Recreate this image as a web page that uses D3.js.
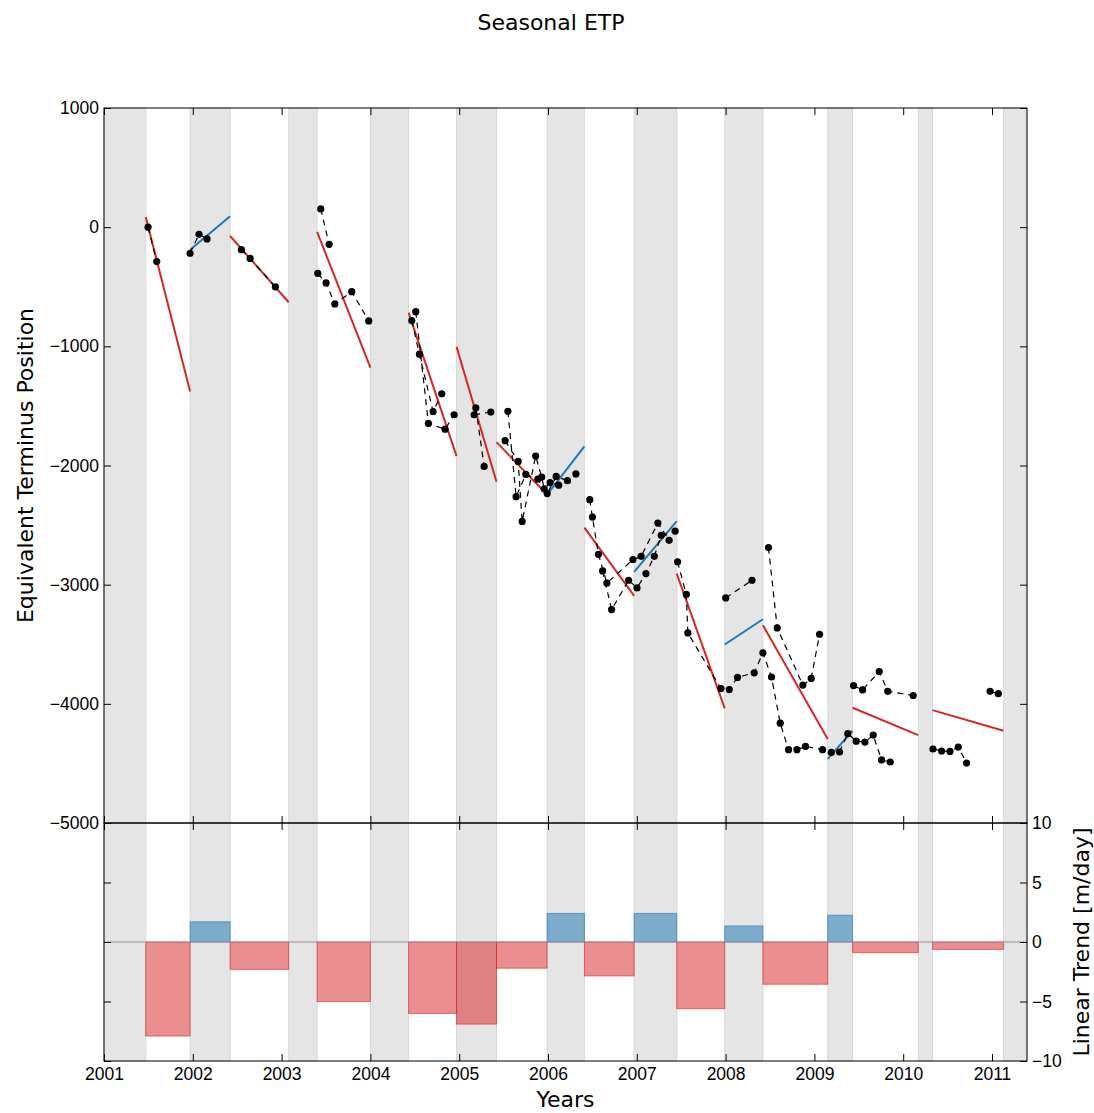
<!DOCTYPE html>
<html>
<head>
<meta charset="utf-8">
<script src="https://cdn.jsdelivr.net/npm/d3@7"></script>
<style>
  html, body { margin: 0; padding: 0; background: #fff; }
  svg { display: block; font-family: "DejaVu Sans", sans-serif; }
</style>
</head>
<body>
<svg id="chart" width="1094" height="1113"></svg>
<script>
// Season boundaries (decimal years); even-numbered periods are the shaded seasons
const periodBounds = [2001.0, 2001.47, 2001.97, 2002.42, 2003.08, 2003.40, 2004.0, 2004.43,
  2004.97, 2005.42, 2005.99, 2006.41, 2006.97, 2007.45, 2007.99, 2008.42, 2009.15, 2009.43,
  2010.17, 2010.33, 2011.13, 2011.394];

// Linear trend of each period [m/day]
const trendRates = [0, -7.9, 1.7, -2.3, 0, -5.0, 0, -6.0, -6.9, -2.2, 2.4, -2.85, 2.4, -5.6,
  1.35, -3.55, 2.25, -0.9, 0, -0.62, 0];

// Fitted line end values [m] for each period (null where no fit)
const trendStart = [null, 85, -189, -74, null, -40, null, -717, -1004, -1804, -2245, -2521,
  -2893, -2907, -3502, -3340, -4464, -4033, null, -4053, null];
const trendEnd = [null, -1379, 91, -630, null, -1178, null, -1921, -2136, -2245, -1840, -3094,
  -2466, -4038, -3290, -4296, -4226, -4262, null, -4226, null];

// Terminus position observations, grouped into connected runs [year, position m]
const run01 = [[2001.496, 0], [2001.594, -289]];
const run02 = [[2001.969, -219], [2002.070, -60], [2002.160, -99]];
const run03 = [[2002.547, -189], [2002.645, -262], [2002.930, -501]];
const run04 = [[2003.441, 153], [2003.535, -144]];
const run05 = [[2003.407, -387], [2003.501, -468], [2003.599, -644], [2003.790, -541], [2003.981, -787]];
const run06 = [[2004.466, -784], [2004.552, -1066], [2004.706, -1547], [2004.804, -1398]];
const run07 = [[2004.511, -709], [2004.653, -1647], [2004.841, -1695], [2004.943, -1574]];
const run08 = [[2005.168, -1574], [2005.356, -1552]];
const run09 = [[2005.187, -1516], [2005.281, -2008]];
const run10 = [[2005.548, -1545], [2005.641, -2262], [2005.750, -2075], [2005.886, -2115],
  [2005.991, -2236], [2006.092, -2092], [2006.219, -2127]];
const run11 = [[2005.517, -1792], [2005.664, -1966], [2005.709, -2469], [2005.861, -1921],
  [2005.929, -2097], [2005.957, -2195], [2006.024, -2143], [2006.120, -2165], [2006.314, -2071]];
const run12 = [[2006.470, -2287], [2006.500, -2433], [2006.568, -2745], [2006.663, -2986],
  [2006.956, -2790], [2007.049, -2762], [2007.237, -2483], [2007.364, -2628]];
const run13 = [[2006.615, -2885], [2006.716, -3209], [2006.908, -2963], [2007.002, -3027],
  [2007.103, -2907], [2007.197, -2762], [2007.275, -2586], [2007.432, -2550]];
const run14 = [[2007.459, -2808], [2007.557, -3082], [2007.575, -3405], [2007.947, -3872],
  [2008.041, -3880], [2008.134, -3778], [2008.322, -3740], [2008.420, -3572], [2008.517, -3775],
  [2008.615, -4162], [2008.709, -4385], [2008.803, -4385], [2008.900, -4357], [2009.092, -4385],
  [2009.190, -4408], [2009.283, -4404], [2009.376, -4250], [2009.471, -4313], [2009.569, -4321],
  [2009.662, -4262], [2009.756, -4471], [2009.854, -4488]];
const run15 = [[2008.001, -3111], [2008.297, -2963]];
const run16 = [[2008.483, -2689], [2008.581, -3363], [2008.870, -3843], [2008.964, -3787], [2009.058, -3416]];
const run17 = [[2009.441, -3847], [2009.542, -3883], [2009.730, -3729], [2009.826, -3895], [2010.113, -3930]];
const run18 = [[2010.335, -4379], [2010.432, -4396], [2010.527, -4399], [2010.620, -4363], [2010.714, -4497]];
const run19 = [[2010.978, -3895], [2011.071, -3915]];
const observationRuns = [run01, run02, run03, run04, run05, run06, run07, run08, run09, run10,
  run11, run12, run13, run14, run15, run16, run17, run18, run19];

// Tick values
const yearTicks = [2001, 2002, 2003, 2004, 2005, 2006, 2007, 2008, 2009, 2010, 2011];
const positionTicks = [1000, 0, -1000, -2000, -3000, -4000, -5000];
const rateTicks = [10, 5, 0, -5, -10];

const RED = "#d62728", BLUE = "#1f77b4";
const fmt = v => (v < 0 ? "\u2212" + Math.abs(v) : String(v));

const svg = d3.select("#chart");
const left = 104, right = 1027, topY = 108, midY = 823, botY = 1061;

const x = d3.scaleLinear().domain([2001, 2011.394]).range([left, right]);
const yTop = d3.scaleLinear().domain([-5000, 1000]).range([midY, topY]);
const yBot = d3.scaleLinear().domain([-10, 10]).range([botY, midY]);

const periods = trendRates.map((r, i) => ({
  i, x0: periodBounds[i], x1: periodBounds[i + 1], rate: r,
  s: trendStart[i], e: trendEnd[i]
}));
const shaded = periods.filter(p => p.i % 2 === 0);

// Shaded seasons in both panels
[[topY, midY], [midY, botY]].forEach(([a, b]) => {
  svg.append("g").selectAll("rect").data(shaded).join("rect")
    .attr("x", d => x(d.x0)).attr("width", d => x(d.x1) - x(d.x0))
    .attr("y", a).attr("height", b - a)
    .attr("fill", "#e5e5e5").attr("stroke", "#d8d8d8").attr("stroke-width", 1);
});

// Top panel: fitted trend lines
svg.append("g").selectAll("line").data(periods.filter(p => p.s !== null)).join("line")
  .attr("x1", d => x(d.x0)).attr("y1", d => yTop(d.s))
  .attr("x2", d => x(d.x1)).attr("y2", d => yTop(d.e))
  .attr("stroke", d => d.rate >= 0 ? BLUE : RED).attr("stroke-width", 2);

// Top panel: observations
const line = d3.line().x(d => x(d[0])).y(d => yTop(d[1]));
const obs = svg.append("g");
obs.selectAll("path").data(observationRuns).join("path")
  .attr("d", line).attr("fill", "none").attr("stroke", "#000")
  .attr("stroke-width", 1.2).attr("stroke-dasharray", "6,5");
obs.selectAll("circle").data(observationRuns.flat()).join("circle")
  .attr("cx", d => x(d[0])).attr("cy", d => yTop(d[1])).attr("r", 3.6).attr("fill", "#000");

// Bottom panel: trend bars
svg.append("g").selectAll("rect").data(periods.filter(p => p.rate !== 0)).join("rect")
  .attr("x", d => x(d.x0)).attr("width", d => x(d.x1) - x(d.x0))
  .attr("y", d => yBot(Math.max(0, d.rate)))
  .attr("height", d => Math.abs(yBot(d.rate) - yBot(0)))
  .attr("fill", d => d.rate >= 0 ? BLUE : RED).attr("fill-opacity", 0.52)
  .attr("stroke", d => d.rate >= 0 ? BLUE : RED).attr("stroke-opacity", 0.6).attr("stroke-width", 1);
svg.append("line").attr("x1", left).attr("x2", right)
  .attr("y1", yBot(0)).attr("y2", yBot(0)).attr("stroke", "#9d8ca3").attr("stroke-width", 1.2);

// Axes (inward ticks, classic style)
const TICK = 7;
function styleAxis(g) {
  g.select(".domain").remove();
  g.selectAll(".tick line").attr("stroke", "#000");
  g.selectAll(".tick text").attr("fill", "#000").attr("font-size", 17.5);
}
svg.append("g").attr("transform", `translate(${left},0)`)
  .call(d3.axisLeft(yTop).tickValues(positionTicks).tickFormat(fmt).tickSizeInner(-TICK).tickSizeOuter(0).tickPadding(5))
  .call(styleAxis);
svg.append("g").attr("transform", `translate(${right},0)`)
  .call(d3.axisRight(yTop).tickValues(positionTicks).tickFormat("").tickSizeInner(-TICK).tickSizeOuter(0))
  .call(styleAxis);
svg.append("g").attr("transform", `translate(0,${topY})`)
  .call(d3.axisTop(x).tickValues(yearTicks).tickFormat("").tickSizeInner(-TICK).tickSizeOuter(0))
  .call(styleAxis);
svg.append("g").attr("transform", `translate(0,${midY})`)
  .call(d3.axisBottom(x).tickValues(yearTicks).tickFormat("").tickSizeInner(-TICK).tickSizeOuter(0))
  .call(styleAxis);
svg.append("g").attr("transform", `translate(0,${midY})`)
  .call(d3.axisTop(x).tickValues(yearTicks).tickFormat("").tickSizeInner(-TICK).tickSizeOuter(0))
  .call(styleAxis);
svg.append("g").attr("transform", `translate(0,${botY})`)
  .call(d3.axisBottom(x).tickValues(yearTicks).tickFormat(d3.format("d")).tickSizeInner(-TICK).tickSizeOuter(0).tickPadding(7))
  .call(styleAxis);
svg.append("g").attr("transform", `translate(${right},0)`)
  .call(d3.axisRight(yBot).tickValues(rateTicks).tickFormat(fmt).tickSizeInner(-TICK).tickSizeOuter(0).tickPadding(5))
  .call(styleAxis);
svg.append("g").attr("transform", `translate(${left},0)`)
  .call(d3.axisLeft(yBot).tickValues(rateTicks).tickFormat("").tickSizeInner(-TICK).tickSizeOuter(0))
  .call(styleAxis);

// Panel frames
[[topY, midY], [midY, botY]].forEach(([a, b]) => {
  svg.append("rect").attr("x", left).attr("y", a).attr("width", right - left).attr("height", b - a)
    .attr("fill", "none").attr("stroke", "#000").attr("stroke-width", 1);
});

// Titles and axis labels
svg.append("text").attr("x", 551).attr("y", 30).attr("text-anchor", "middle")
  .attr("font-size", 22).text("Seasonal ETP");
svg.append("text").attr("x", (left + right) / 2).attr("y", 1107).attr("text-anchor", "middle")
  .attr("font-size", 22).text("Years");
svg.append("text").attr("transform", `translate(33,${(topY + midY) / 2}) rotate(-90)`)
  .attr("text-anchor", "middle").attr("font-size", 22).text("Equivalent Terminus Position");
svg.append("text").attr("transform", `translate(1089,${(midY + botY) / 2}) rotate(-90)`)
  .attr("text-anchor", "middle").attr("font-size", 22).text("Linear Trend [m/day]");
</script>
</body>
</html>
